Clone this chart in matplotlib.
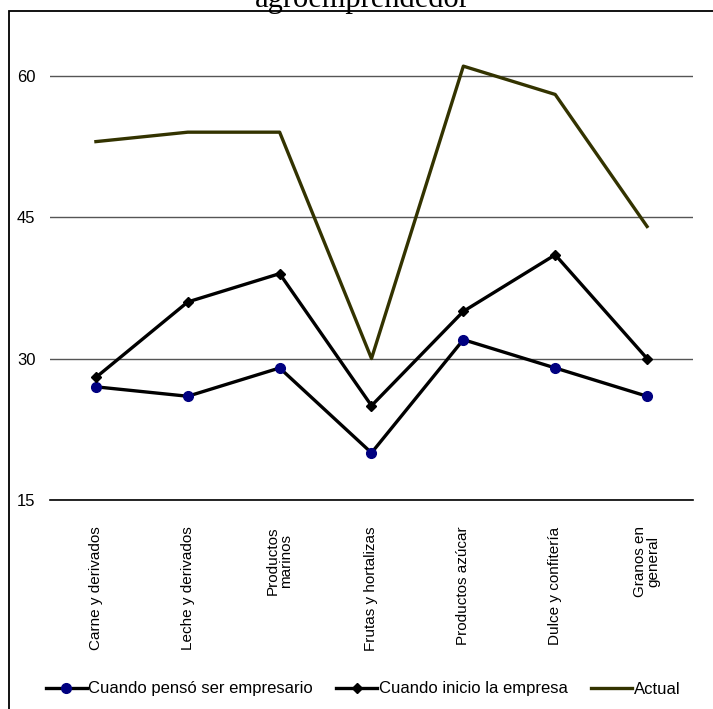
import matplotlib
matplotlib.use("Agg")
import matplotlib.pyplot as plt
from matplotlib import font_manager
from matplotlib.patches import Rectangle

# categorias y series (porcentaje de agroemprendedores)
categorias = ["Carne y derivados", "Leche y derivados", "Productos\nmarinos",
              "Frutas y hortalizas", "Productos azúcar", "Dulce y confitería",
              "Granos en\ngeneral"]
penso_empresario = [27, 26, 29, 20, 32, 29, 26]
inicio_empresa = [28, 36, 39, 25, 35, 41, 30]
actual = [53, 54, 54, 30, 61, 58, 44]
yticks = [15, 30, 45, 60]

nombres = [f.name for f in font_manager.fontManager.ttflist]
narrow = "Liberation Sans Narrow" if "Liberation Sans Narrow" in nombres else "Liberation Sans"
plt.rcParams["font.family"] = ["Liberation Sans", "DejaVu Sans"]

fig = plt.figure(figsize=(7.13, 7.09), dpi=100)
ax = fig.add_axes([50 / 713, 209 / 709, 643 / 713, 481 / 709])

x = list(range(len(categorias)))
ax.plot(x, penso_empresario, color="black", lw=2.4, marker="o", ms=7,
        mfc="#000080", mec="#000080", label="Cuando pensó ser empresario")
ax.plot(x, inicio_empresa, color="black", lw=2.4, marker="D", ms=5,
        mfc="black", mec="black", label="Cuando inicio la empresa")
ax.plot(x, actual, color="#333300", lw=2.4, label="Actual")

ax.set_xlim(-0.5, len(categorias) - 0.5)
ax.set_ylim(15, 66)
ax.set_yticks(yticks)
ax.set_yticklabels([str(v) for v in yticks], fontfamily=narrow, fontsize=12)
ax.yaxis.grid(True, color="#555555", lw=1)
ax.set_axisbelow(True)
ax.tick_params(axis="y", length=0, pad=10.5)
ax.tick_params(axis="x", length=0, pad=19)
ax.set_xticks(x)
ax.set_xticklabels(categorias, rotation=90, va="top", ha="center",
                   multialignment="center", fontsize=11, linespacing=0.95)
for s in ["top", "left", "right"]:
    ax.spines[s].set_visible(False)
ax.spines["bottom"].set_color("black")
ax.spines["bottom"].set_linewidth(1.2)

# marco del grafico
fig.patches.append(Rectangle((9 / 713, -0.1), 1.2, 1 - 11 / 709 + 0.1,
                             transform=fig.transFigure, fill=False,
                             ec="black", lw=1.3, clip_on=False))

fig.text(362 / 713, 1 - 7 / 709, "agroemprendedor", ha="center",
         va="baseline", fontfamily="Liberation Serif", fontsize=22)

fig.legend(loc="center", bbox_to_anchor=(363 / 713, 1 - 689 / 709), ncol=3,
           frameon=False, handlelength=2.45, columnspacing=1.4,
           handletextpad=0.1, prop={"family": narrow, "size": 12})

fig.savefig("out.png", dpi=100)
